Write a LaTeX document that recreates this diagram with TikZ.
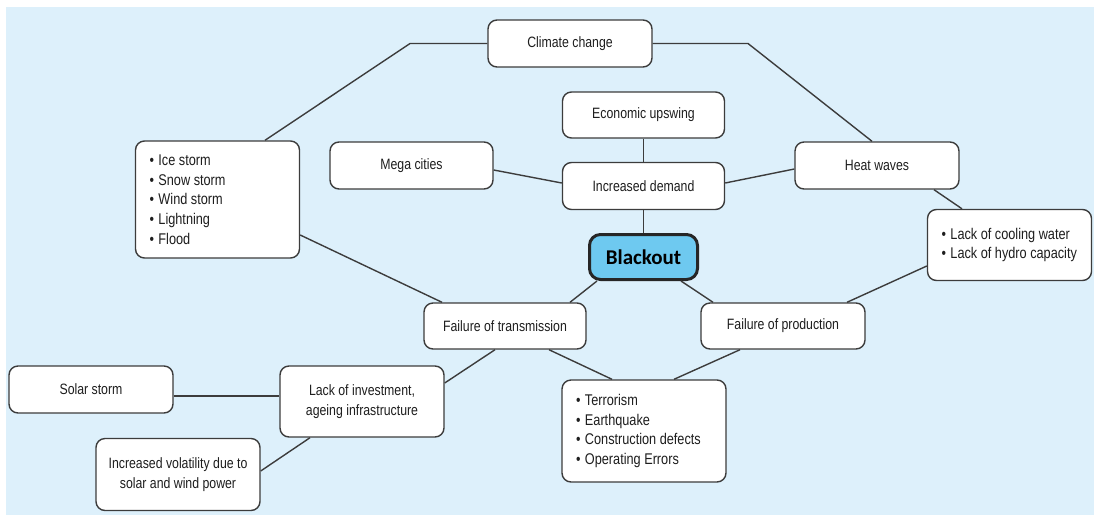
\documentclass[tikz,border=0pt]{standalone}
\usepackage{fontspec}
\newfontfamily\narrowsf{Liberation Sans}[FakeStretch=0.82]
\newfontfamily\blkfont{Carlito}
\definecolor{bgblue}{RGB}{221,240,251}
\definecolor{boxline}{RGB}{60,60,60}
\definecolor{txt}{RGB}{30,30,30}
\definecolor{bofill}{RGB}{110,201,240}
\newcommand{\bul}{\textbullet\hspace{4.5pt}}
\tikzset{
  box/.style={draw=boxline, line width=1.4pt, fill=white, rounded corners=9pt,
    minimum width=164pt, minimum height=47pt, inner sep=2pt, align=center,
    text=txt, font=\narrowsf\fontsize{15}{19.7}\selectfont},
  listbox/.style={box, align=flush left, text width=136pt, inner xsep=14pt,
    font=\narrowsf\fontsize{15.5}{19.7}\selectfont},
  mainbox/.style={draw=black!85, line width=3pt, fill=bofill, rounded corners=11pt,
    minimum width=108pt, minimum height=45pt, text=black,
    font=\blkfont\bfseries\fontsize{21}{24}\selectfont},
  link/.style={draw=boxline, line width=1.4pt}
}
\begin{document}
\begin{tikzpicture}[x=1pt,y=-1pt]
\useasboundingbox (0,0) rectangle (1094,520);
\fill[bgblue] (6,7) rectangle (1094,515);
% nodes
\node[box] (cc) at (570,43.5) {Climate change};
\node[box, minimum width=162pt, minimum height=46pt] (eu) at (643.5,115) {Economic upswing};
\node[box, minimum width=163pt] (mc) at (411.5,165.5) {Mega cities};
\node[box, minimum width=162pt] (id) at (643.5,186) {Increased demand};
\node[box] (hw) at (877,165.5) {Heat waves};
\node[listbox, minimum height=117pt] (ice) at (217.5,199.5)
  {\bul Ice storm\\ \bul Snow storm\\ \bul Wind storm\\ \bul Lightning\\ \bul Flood};
\node[mainbox] (bo) at (643.5,257) {Blackout};
\node[listbox, minimum height=71pt] (lcw) at (1009.5,245)
  {\mbox{\bul Lack of cooling water}\\ \mbox{\bul Lack of hydro capacity}};
\node[box, minimum width=162pt, minimum height=46pt] (ft) at (505,326) {Failure of transmission};
\node[box, minimum height=46pt] (fp) at (783,326) {Failure of production};
\node[box] (ss) at (91,389.5) {Solar storm};
\node[box, minimum height=71pt] (li) at (362,401.5) {Lack of investment,\\ ageing infrastructure};
\node[listbox, minimum height=102pt] (te) at (644,431)
  {\bul Terrorism\\ \bul Earthquake\\ \mbox{\bul Construction defects}\\ \bul Operating Errors};
\node[box, minimum height=72pt] (iv) at (178,474.5) {Increased volatility due to\\ solar and wind power};
% bends
\coordinate (c1) at (410,43.5);
\coordinate (c2) at (748,43.5);
% connectors
\draw[link] (cc.west) -- (c1) -- (ice.north -| 265,0);
\draw[link] (cc.east) -- (c2) -- (hw.north -| 872,0);
\draw[link] (eu.south) -- (id.north);
\draw[link] (mc.east |- 0,170) -- (id.west |- 0,183);
\draw[link] (id.east |- 0,183) -- (hw.west |- 0,169);
\draw[link] (id.south) -- (bo.north);
\draw[link] (hw.south -| 934,0) -- (lcw.north -| 962,0);
\draw[link] (lcw.west |- 0,266) -- (fp.north -| 847,0);
\draw[link] (bo.south -| 597,0) -- (ft.north -| 570,0);
\draw[link] (bo.south -| 681,0) -- (fp.north -| 713,0);
\draw[link] (ice.east |- 0,235) -- (ft.north -| 442,0);
\draw[link] (ft.south -| 495,0) -- (li.east |- 0,383);
\draw[link] (ft.south -| 549,0) -- (te.north -| 612,0);
\draw[link] (fp.south -| 740,0) -- (te.north -| 674,0);
\draw[link] (ss.east |- 0,396) -- (li.west |- 0,396);
\draw[link] (li.south -| 310,0) -- (iv.east |- 0,471);
\end{tikzpicture}
\end{document}
